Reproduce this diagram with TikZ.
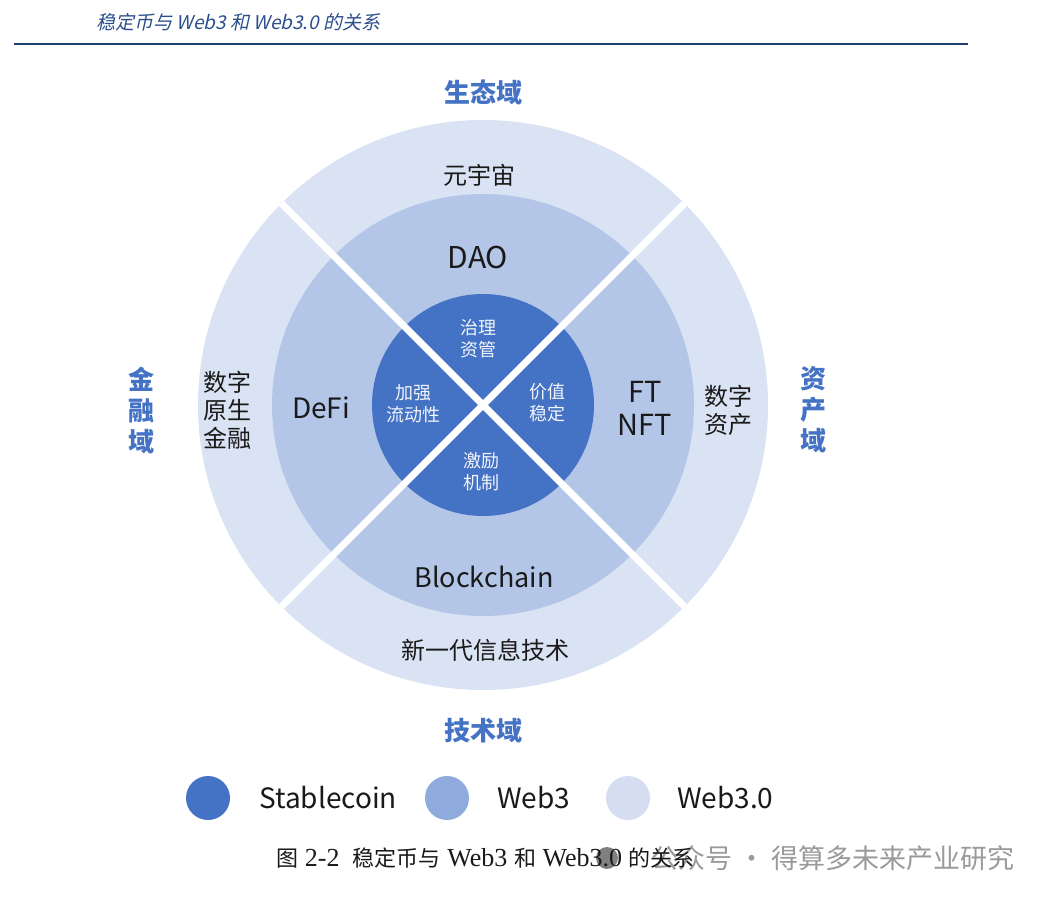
\documentclass[tikz,border=0pt]{standalone}
\usepackage{fontspec}
\newfontfamily\cjk{Noto Sans CJK SC}
\newfontfamily\cjkit[FakeSlant=0.22]{Noto Sans CJK SC}
\newfontfamily\serif{Liberation Serif}
\definecolor{coreblue}{HTML}{4472C4}
\definecolor{midring}{HTML}{B4C6E7}
\definecolor{outring}{HTML}{DAE3F3}
\definecolor{legmid}{HTML}{8FAADC}
\definecolor{legout}{HTML}{D5DEF0}
\definecolor{domblue}{HTML}{4472C4}
\definecolor{hdrblue}{HTML}{2B4F8C}
\definecolor{hdrline}{HTML}{1F3F6F}
\definecolor{txt}{HTML}{1A1A1A}
\definecolor{softwhite}{HTML}{F2F5FB}
\definecolor{wmgray}{HTML}{9A9A9A}
\tikzset{
  ring/.style={circle, inner sep=0pt, draw=none},
  dom/.style={text=domblue, font=\cjk\bfseries\fontsize{26}{31}\selectfont, align=center, inner sep=0pt},
  ringlabel/.style={text=txt, font=\cjk\fontsize{24}{28}\selectfont, align=center, inner sep=0pt},
  latinlabel/.style={text=txt, font=\cjk\fontsize{30}{32}\selectfont, align=center, inner sep=0pt},
  corelabel/.style={text=softwhite, font=\cjk\fontsize{18}{22}\selectfont, align=center, inner sep=0pt},
  gap/.style={white, line width=7pt},
  legdot/.style={circle, inner sep=0pt, minimum size=44pt},
  legtext/.style={text=txt, font=\cjk\fontsize{28}{30}\selectfont, anchor=west, inner sep=0pt}
}
\begin{document}
\begin{tikzpicture}[x=1pt,y=-1pt]
\useasboundingbox (0,0) rectangle (1049,902);
\fill[white] (0,0) rectangle (1049,902);
% header
\node[anchor=west, inner sep=0pt, text=hdrblue, font=\cjkit\fontsize{19}{22}\selectfont] (title) at (96,22) {稳定币与 Web3 和 Web3.0 的关系};
\coordinate (hl) at (14,44);
\coordinate (hr) at (968,44);
\draw[hdrline, line width=2pt] (hl) -- (hr);
% rings
\node[ring, fill=outring, minimum size=570pt] (outer) at (483,405) {};
\node[ring, fill=midring, minimum size=422pt] (mid) at (483,405) {};
\node[ring, fill=coreblue, minimum size=222pt] (core) at (483,405) {};
\begin{scope}
\clip (483,405) circle (285pt);
\draw[gap] ([shift={(135:300pt)}]outer.center) -- ([shift={(-45:300pt)}]outer.center);
\draw[gap] ([shift={(45:300pt)}]outer.center) -- ([shift={(-135:300pt)}]outer.center);
\end{scope}
% domain labels
\node[dom] (shengtai) at (483,92) {生态域};
\node[dom] (jishu) at (483,731) {技术域};
\node[dom] (jinrong) at (141,410) {金\\融\\域};
\node[dom] (zichan) at (813,410) {资\\产\\域};
% outer ring labels
\node[ringlabel] (yuanyuzhou) at (479,175) {元宇宙};
\node[ringlabel] (xinyidai) at (485,650) {新一代信息技术};
\node[ringlabel] (shuzijinrong) at (227,410) {数字\\原生\\金融};
\node[ringlabel] (shuzizichan) at (728,410) {数字\\资产};
% middle ring labels
\node[latinlabel] (dao) at (478,258) {DAO};
\node[latinlabel, font=\cjk\fontsize{28}{32}\selectfont] (defi) at (321,408) {DeFi};
\node[latinlabel, font=\cjk\fontsize{29}{33}\selectfont] (nft) at (645,408) {FT\\NFT};
\node[latinlabel, font=\cjk\fontsize{27}{32}\selectfont] (blockchain) at (484,577) {Blockchain};
% core labels
\node[corelabel] (zhili) at (478,339) {治理\\资管};
\node[corelabel] (jiaqiang) at (413,404) {加强\\流动性};
\node[corelabel] (jiazhi) at (547,403) {价值\\稳定};
\node[corelabel] (jili) at (481,472) {激励\\机制};
% legend
\node[legdot, fill=coreblue] (l1) at (208,798) {};
\node[legtext] (t1) at (259,798) {Stablecoin};
\node[legdot, fill=legmid] (l2) at (447,798) {};
\node[legtext] (t2) at (497,798) {Web3};
\node[legdot, fill=legout] (l3) at (628,798) {};
\node[legtext] (t3) at (677,798) {Web3.0};
% watermark
\node[anchor=east, inner sep=0pt, text=wmgray, font=\cjk\fontsize{27}{30}\selectfont] (wm) at (1015,858) {公众号 · 得算多未来产业研究};
\node[circle, fill=gray, inner sep=0pt, minimum size=22pt] (wmicon) at (607,858) {};
% caption
\node[anchor=west, inner sep=0pt, text=txt, font=\fontsize{22}{24}\selectfont] (caption) at (276,858) {{\cjk 图} {\serif\fontsize{26}{28}\selectfont 2-2}\ \ {\cjk 稳定币与} {\serif\fontsize{26}{28}\selectfont Web3} {\cjk 和} {\serif\fontsize{26}{28}\selectfont Web3.0} {\cjk 的关系}};
\end{tikzpicture}
\end{document}
